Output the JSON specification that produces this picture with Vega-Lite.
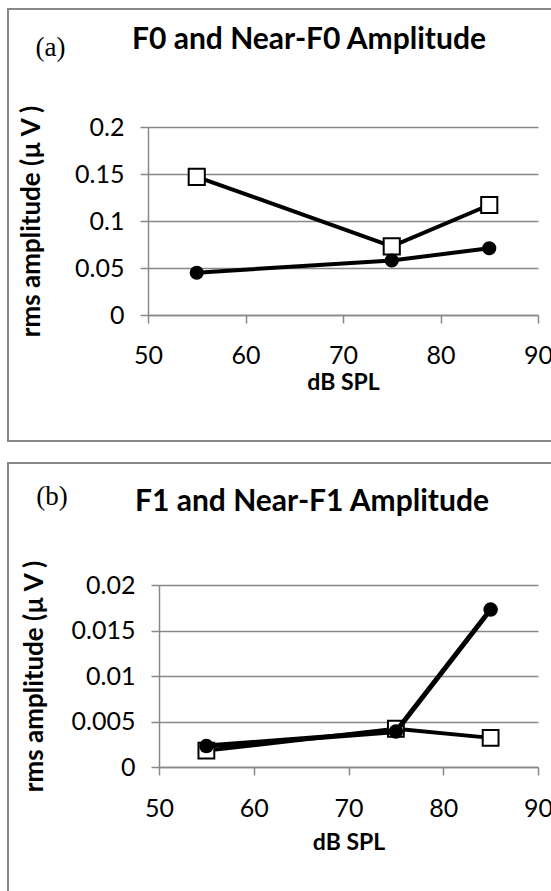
{
  "$schema": "https://vega.github.io/schema/vega-lite/v6.json",
  "background": "white",
  "padding": {"left": 7, "top": 8, "right": 0, "bottom": 0},
  "spacing": 20,
  "config": {
    "view": {"stroke": "#888888", "strokeWidth": 2},
    "axis": {
      "domainColor": "#888888", "domainWidth": 1.5,
      "tickColor": "#888888", "tickWidth": 1.5, "tickSize": 8,
      "gridColor": "#888888", "gridWidth": 1.5, "gridOpacity": 1,
      "labelFont": "Lato", "labelFontSize": 25, "labelColor": "black", "labelFlush": false,
      "titleFont": "Lato", "titleFontSize": 23, "titleFontWeight": "bold", "titleColor": "black"
    }
  },
  "vconcat": [
    {
      "width": 546,
      "height": 432,
      "title": {"text": "F0 and Near-F0 Amplitude", "orient": "top", "anchor": "start", "frame": "group", "offset": -70, "dx": 124, "baseline": "alphabetic", "font": "Lato", "fontSize": 30, "fontWeight": "bold", "color": "black"},
      "data": {"values": [
        {"level": 55, "series": "square", "amp": 0.147},
        {"level": 75, "series": "square", "amp": 0.073},
        {"level": 85, "series": "square", "amp": 0.117},
        {"level": 55, "series": "circle", "amp": 0.045},
        {"level": 75, "series": "circle", "amp": 0.058},
        {"level": 85, "series": "circle", "amp": 0.071}
      ]},
      "encoding": {
        "x": {"field": "level", "type": "quantitative",
          "scale": {"domain": [50, 90], "range": [140, 530], "nice": false, "zero": false},
          "axis": {"orient": "bottom", "offset": -126, "grid": false, "values": [50, 60, 70, 80, 90], "format": "d", "labelPadding": 20, "titlePadding": 3, "title": "dB SPL"}},
        "y": {"field": "amp", "type": "quantitative",
          "scale": {"domain": [0, 0.2], "range": [306, 118], "nice": false, "zero": false},
          "axis": {"orient": "left", "offset": -140, "grid": true, "values": [0, 0.05, 0.1, 0.15, 0.2], "format": "~g", "labelPadding": 16, "titlePadding": 30, "titleFontSize": 26, "title": "rms amplitude (µ V )"}}
      },
      "layer": [
        {"transform": [{"filter": "datum.series === 'square'"}], "mark": {"type": "line", "color": "black", "strokeWidth": 4}},
        {"transform": [{"filter": "datum.series === 'square'"}], "mark": {"type": "point", "shape": "square", "filled": true, "fill": "white", "stroke": "black", "strokeWidth": 2, "size": 260, "opacity": 1}},
        {"transform": [{"filter": "datum.series === 'circle'"}], "mark": {"type": "line", "color": "black", "strokeWidth": 4}},
        {"transform": [{"filter": "datum.series === 'circle'"}], "mark": {"type": "point", "shape": "circle", "filled": true, "fill": "black", "size": 200, "opacity": 1}},
        {"transform": [{"filter": "datum.series === 'circle' && datum.level === 55"}],
         "mark": {"type": "text", "text": "(a)", "font": "Liberation Serif", "fontSize": 27, "color": "black", "baseline": "middle", "align": "center"},
         "encoding": {"x": {"datum": 40, "type": "quantitative"}, "y": {"datum": 0.284, "type": "quantitative"}}}
      ]
    },
    {
      "width": 546,
      "height": 436,
      "title": {"text": "F1 and Near-F1 Amplitude", "orient": "top", "anchor": "start", "frame": "group", "offset": -78, "dx": 127, "baseline": "alphabetic", "font": "Lato", "fontSize": 30, "fontWeight": "bold", "color": "black"},
      "data": {"values": [
        {"level": 55, "series": "square", "amp": 0.0018},
        {"level": 75, "series": "square", "amp": 0.0042},
        {"level": 85, "series": "square", "amp": 0.0032},
        {"level": 55, "series": "circle", "amp": 0.0023},
        {"level": 75, "series": "circle", "amp": 0.0039},
        {"level": 85, "series": "circle", "amp": 0.0173}
      ]},
      "encoding": {
        "x": {"field": "level", "type": "quantitative",
          "scale": {"domain": [50, 90], "range": [151, 530], "nice": false, "zero": false},
          "axis": {"orient": "bottom", "offset": -132, "grid": false, "values": [50, 60, 70, 80, 90], "format": "d", "labelPadding": 21, "titlePadding": 10, "title": "dB SPL"}},
        "y": {"field": "amp", "type": "quantitative",
          "scale": {"domain": [0, 0.02], "range": [304, 122], "nice": false, "zero": false},
          "axis": {"orient": "left", "offset": -151, "grid": true, "values": [0, 0.005, 0.01, 0.015, 0.02], "format": "~g", "labelPadding": 16, "titlePadding": 24, "titleFontSize": 26, "title": "rms amplitude (µ V )"}}
      },
      "layer": [
        {"transform": [{"filter": "datum.series === 'square'"}], "mark": {"type": "line", "color": "black", "strokeWidth": 4}},
        {"transform": [{"filter": "datum.series === 'square'"}], "mark": {"type": "point", "shape": "square", "filled": true, "fill": "white", "stroke": "black", "strokeWidth": 2, "size": 250, "opacity": 1}},
        {"transform": [{"filter": "datum.series === 'circle'"}], "mark": {"type": "line", "color": "black", "strokeWidth": 5}},
        {"transform": [{"filter": "datum.series === 'circle'"}], "mark": {"type": "point", "shape": "circle", "filled": true, "fill": "black", "size": 210, "opacity": 1}},
        {"transform": [{"filter": "datum.series === 'circle' && datum.level === 55"}],
         "mark": {"type": "text", "text": "(b)", "font": "Liberation Serif", "fontSize": 27, "color": "black", "baseline": "middle", "align": "center"},
         "encoding": {"x": {"datum": 38.7, "type": "quantitative"}, "y": {"datum": 0.02967, "type": "quantitative"}}}
      ]
    }
  ]
}
